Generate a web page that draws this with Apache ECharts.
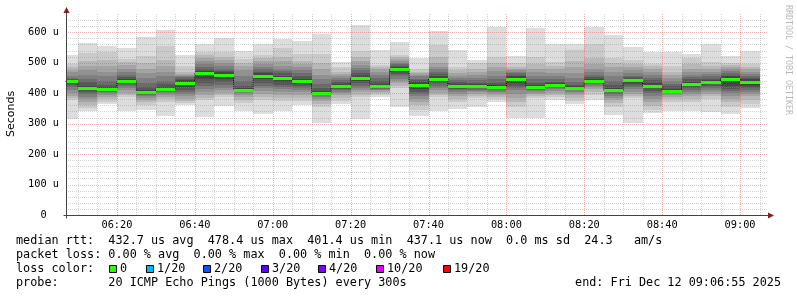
<!DOCTYPE html>
<html><head><meta charset="utf-8">
<script src="https://cdn.jsdelivr.net/npm/echarts@6/dist/echarts.min.js"></script>
<style>html,body{margin:0;padding:0;background:#fff}#c{width:797px;height:297px}</style>
</head><body><div id="c"></div>
<script>
// ---- data ----
const viewStart = '06:06:55';
const viewEnd = '09:06:55';
const stepMinutes = 5;
const times = ['06:05','06:10','06:15','06:20','06:25','06:30','06:35','06:40','06:45','06:50','06:55',
  '07:00','07:05','07:10','07:15','07:20','07:25','07:30','07:35','07:40','07:45','07:50','07:55',
  '08:00','08:05','08:10','08:15','08:20','08:25','08:30','08:35','08:40','08:45','08:50','08:55','09:00'];
// median rtt per 5-minute step (microseconds)
const median = [439,416,415,440,403,413,434,467,460,411,457,449,440,401,423,451,423,478,428,446,424,424,421,448,419,426,416,439,410,442,425,408,430,436,448,437];
// 20 sorted ping rtts per step (microseconds)
const pings = [
  [314,377,385,392,400,410,420,428,432,437,441,443,447,450,458,469,475,485,496,527],
  [340,350,362,372,380,388,396,403,410,414,418,425,436,448,460,475,490,505,532,564],
  [365,372,380,388,395,400,405,409,412,414,416,420,428,440,455,470,490,510,535,556],
  [340,387,395,402,410,418,425,430,435,439,441,445,452,460,470,480,492,503,513,548],
  [346,360,370,378,385,390,395,399,402,403,405,410,420,435,450,465,480,500,523,586],
  [325,370,380,388,395,400,405,408,411,413,415,420,430,440,455,470,490,510,556,607],
  [362,368,375,382,390,398,405,412,420,428,436,442,447,452,455,458,462,470,490,525],
  [321,376,385,395,405,414,425,435,448,462,470,474,480,487,495,505,515,525,534,562],
  [358,387,395,402,410,418,428,438,448,456,462,468,474,480,490,500,510,520,535,580],
  [340,368,378,388,395,400,405,408,410,411,413,418,425,440,458,475,490,500,513,540],
  [332,376,388,398,408,416,425,435,445,453,459,465,470,478,485,495,505,515,525,562],
  [340,375,385,395,405,413,420,428,436,445,452,458,465,472,480,490,505,520,550,578],
  [360,375,385,395,405,412,418,424,430,437,442,448,455,465,475,485,495,505,530,571],
  [301,354,365,375,382,388,393,397,399,400,402,408,418,430,445,460,480,500,530,595],
  [366,375,385,393,400,405,410,414,418,421,425,430,436,443,450,456,462,470,485,503],
  [314,387,395,403,410,418,425,432,440,447,453,460,467,475,483,492,505,520,540,623],
  [388,395,400,405,409,412,415,418,420,422,424,430,440,450,460,470,478,485,492,541],
  [355,416,425,432,440,447,455,462,468,475,480,485,490,495,500,505,512,518,525,568],
  [325,345,360,372,382,390,398,405,415,424,430,436,442,448,455,460,465,470,480,517],
  [341,387,395,402,410,418,425,432,438,444,448,455,462,470,478,487,500,520,557,603],
  [348,370,380,390,398,405,410,415,419,422,426,430,436,443,450,458,465,475,485,543],
  [355,385,392,398,403,408,412,416,420,423,426,430,435,442,450,460,470,480,500,510],
  [371,380,388,395,400,405,410,414,417,420,423,428,435,445,458,472,485,500,518,617],
  [319,355,370,385,398,410,418,425,435,444,450,455,460,465,470,475,480,485,500,521],
  [320,383,390,397,402,406,410,413,416,418,421,426,435,445,455,469,480,495,518,614],
  [379,388,395,402,408,413,417,420,423,425,428,432,438,445,455,465,478,490,503,560],
  [364,375,385,393,400,405,409,412,414,416,418,422,428,437,450,465,485,505,541,562],
  [379,395,405,413,420,425,430,434,437,439,441,445,452,460,470,480,495,515,562,617],
  [328,355,368,378,385,392,398,403,407,409,412,418,428,440,455,470,485,500,514,590],
  [301,383,390,398,405,413,420,428,435,440,444,448,453,458,465,475,485,495,508,552],
  [335,345,358,370,380,390,400,408,416,422,428,435,442,450,460,470,480,488,495,535],
  [341,372,380,388,394,399,403,405,407,408,410,415,422,430,440,450,460,469,490,535],
  [341,370,380,390,398,405,412,418,423,428,432,438,445,452,460,470,480,495,515,530],
  [339,380,390,398,405,412,418,424,430,434,438,442,448,455,462,470,480,490,503,563],
  [331,355,370,382,392,400,408,415,425,440,450,455,460,465,472,478,485,492,500,521],
  [350,365,378,390,398,405,412,418,425,432,440,445,450,455,462,470,478,485,495,539]
];
const xTickLabels = ['06:20','06:40','07:00','07:20','07:40','08:00','08:20','08:40','09:00'];
const yTickValues = [0,100,200,300,400,500,600];
const yMax = 660;
const lossLabels = ['0','1/20','2/20','3/20','4/20','10/20','19/20'];
const lossColors = ['#26ff00','#00b8ff','#0059ff','#5e00ff','#7e00ff','#dd00ff','#ff0000'];
const smokeColors = ['#dddddd','#cacaca','#b7b7b7','#a4a4a4','#919191','#7e7e7e','#6b6b6b','#585858','#454545','#323232'];
const legendLines = [
  'median rtt:  432.7 us avg  478.4 us max  401.4 us min  437.1 us now  0.0 ms sd  24.3   am/s',
  'packet loss: 0.00 % avg  0.00 % max  0.00 % min  0.00 % now',
  'loss color:',
  'probe:       20 ICMP Echo Pings (1000 Bytes) every 300s'
];
const endText = 'end: Fri Dec 12 09:06:55 2025';

(function () {
// ---- helpers ----
const toMin = s => { const p = s.split(':').map(Number); return p[0]*60 + p[1] + (p[2]||0)/60; };
const fmt = v => { const h = Math.floor(v/60), m = Math.round(v - h*60); return String(h).padStart(2,'0') + ':' + String(m).padStart(2,'0'); };
const xMin = toMin(viewStart), xMax = toMin(viewEnd);
const MONO = 'DejaVu Sans Mono';

const smokeData = times.map((t,i) => [toMin(t), toMin(t)+stepMinutes, median[i]].concat(pings[i]));
const medData = times.map((t,i) => [toMin(t), toMin(t)+stepMinutes, median[i]]);
const stepData = times.map((t,i) => [toMin(t), median[i]]);
stepData.push([toMin(times[times.length-1]) + stepMinutes, median[median.length-1]]);

const gridData = [];
for (let m = Math.ceil(xMin/stepMinutes)*stepMinutes; m < xMax; m += stepMinutes) gridData.push([0, m, m % 20 === 0 ? 1 : 0]);
for (let v = 20; v < yMax; v += 20) gridData.push([1, v, v % 100 === 0 ? 1 : 0]);

const clipTo = (r, cs) => echarts.graphic.clipRectByRect(r, {x: cs.x, y: cs.y, width: cs.width, height: cs.height});

const chart = echarts.init(document.getElementById('c'), null, {renderer: 'canvas'});
const option = {
  animation: false,
  backgroundColor: '#ffffff',
  grid: {left: 66, top: 14, width: 701, height: 201},
  xAxis: {
    type: 'value', min: xMin, max: xMax,
    axisLine: {show: false}, axisTick: {show: false}, splitLine: {show: false},
    axisLabel: {customValues: xTickLabels.map(toMin), formatter: v => fmt(v), margin: 5,
      color: '#000', fontFamily: MONO, fontSize: 10.3}
  },
  yAxis: {
    type: 'value', min: 0, max: yMax,
    axisLine: {show: false}, axisTick: {show: false}, splitLine: {show: false},
    axisLabel: {customValues: yTickValues, formatter: v => v === 0 ? '0  ' : v + ' u', margin: 7,
      color: '#000', fontFamily: MONO, fontSize: 10.3}
  },
  series: [
    {
      type: 'custom', silent: true, z: 2, data: smokeData,
      renderItem: (params, api) => {
        const cs = params.coordSys;
        const x0 = api.value(0), x1 = api.value(1);
        const children = [];
        for (let b = 0; b < 10; b++) {
          const lo = api.value(3 + b), hi = api.value(3 + 19 - b);
          const p0 = api.coord([x0, hi]), p1 = api.coord([x1, lo]);
          const xa = Math.round(p0[0]), xb = Math.round(p1[0]);
          const ya = Math.round(p0[1]), yb = Math.round(p1[1]);
          const r = clipTo({x: xa, y: ya, width: xb - xa, height: yb - ya}, cs);
          if (r) children.push({type: 'rect', shape: r, style: {fill: smokeColors[b]}});
        }
        return {type: 'group', children};
      }
    },
    {
      type: 'line', silent: true, z: 3, data: stepData, step: 'end', symbol: 'none',
      lineStyle: {color: '#000', width: 1, type: [1, 1]}
    },
    {
      type: 'custom', silent: true, z: 4, data: medData,
      renderItem: (params, api) => {
        const cs = params.coordSys;
        const p0 = api.coord([api.value(0), api.value(2)]);
        const p1 = api.coord([api.value(1), api.value(2)]);
        const xa = Math.round(p0[0]), xb = Math.round(p1[0]);
        const yc = Math.round(p0[1]);
        const r = clipTo({x: xa, y: yc - 1, width: xb - xa, height: 3}, cs);
        return r ? {type: 'rect', shape: r, style: {fill: lossColors[0]}} : null;
      }
    },
    {
      type: 'custom', silent: true, z: 5, data: gridData,
      renderItem: (params, api) => {
        const cs = params.coordSys;
        const o = api.value(0), v = api.value(1), major = api.value(2);
        let shape;
        if (o === 0) {
          const x = Math.round(api.coord([v, 0])[0]) + 0.5;
          shape = {x1: x, y1: cs.y, x2: x, y2: cs.y + cs.height};
        } else {
          const y = Math.round(api.coord([xMin, v])[1]) + 0.5;
          shape = {x1: cs.x, y1: y, x2: cs.x + cs.width + 1, y2: y};
        }
        return {type: 'line', shape,
          style: {stroke: major ? 'rgba(222,79,79,0.42)' : 'rgba(143,143,143,0.38)', lineWidth: 1, lineDash: [1, 1]}};
      }
    }
  ]
};
chart.setOption(option);

// axes, arrows and texts
const o0 = chart.convertToPixel({gridIndex: 0}, [xMin, 0]);
const o1 = chart.convertToPixel({gridIndex: 0}, [xMax, yMax]);
const ax = Math.round(o0[0]) + 0.5, ay = Math.round(o0[1]) + 0.5;
const rightX = Math.round(o1[0]), topY = Math.round(o1[1]);
const g = [];
g.push({type: 'line', silent: true, z: 10, shape: {x1: ax, y1: ay + 3, x2: ax, y2: topY - 5}, style: {stroke: '#444', lineWidth: 1}});
g.push({type: 'line', silent: true, z: 10, shape: {x1: ax - 3, y1: ay, x2: rightX + 2, y2: ay}, style: {stroke: '#444', lineWidth: 1}});
g.push({type: 'polygon', silent: true, z: 11, shape: {points: [[ax - 3, topY - 1], [ax + 3, topY - 1], [ax, topY - 7]]}, style: {fill: '#801f1f'}});
g.push({type: 'polygon', silent: true, z: 11, shape: {points: [[rightX + 1, ay - 3], [rightX + 1, ay + 3], [rightX + 7, ay]]}, style: {fill: '#801f1f'}});
g.push({type: 'text', silent: true, x: 11, y: 114, rotation: Math.PI/2,
  style: {text: 'Seconds', fill: '#000', font: '11px "DejaVu Sans"', align: 'center', verticalAlign: 'middle'}});
g.push({type: 'text', silent: true, x: 788, y: 60, rotation: -Math.PI/2,
  style: {text: 'RRDTOOL / TOBI OETIKER', fill: '#b8b8b8', font: '8.3px "DejaVu Sans Mono"', align: 'center', verticalAlign: 'middle'}});
const rowY = [241, 255, 269, 283];
legendLines.forEach((s, i) => g.push({type: 'text', silent: true, x: 16, y: rowY[i],
  style: {text: s, fill: '#000', font: '11.8px "DejaVu Sans Mono"', align: 'left', verticalAlign: 'middle'}}));
g.push({type: 'text', silent: true, x: 781, y: rowY[3],
  style: {text: endText, fill: '#000', font: '11.8px "DejaVu Sans Mono"', align: 'right', verticalAlign: 'middle'}});
const sqX = [109, 146, 203, 261, 318, 376, 443];
lossLabels.forEach((l, i) => {
  g.push({type: 'rect', silent: true, shape: {x: sqX[i] + 0.5, y: 265.5, width: 7, height: 7},
    style: {fill: lossColors[i], stroke: '#000', lineWidth: 1}});
  g.push({type: 'text', silent: true, x: sqX[i] + 11, y: rowY[2],
    style: {text: l, fill: '#000', font: '11.8px "DejaVu Sans Mono"', align: 'left', verticalAlign: 'middle'}});
});
chart.setOption({graphic: g});
})();
</script></body></html>
